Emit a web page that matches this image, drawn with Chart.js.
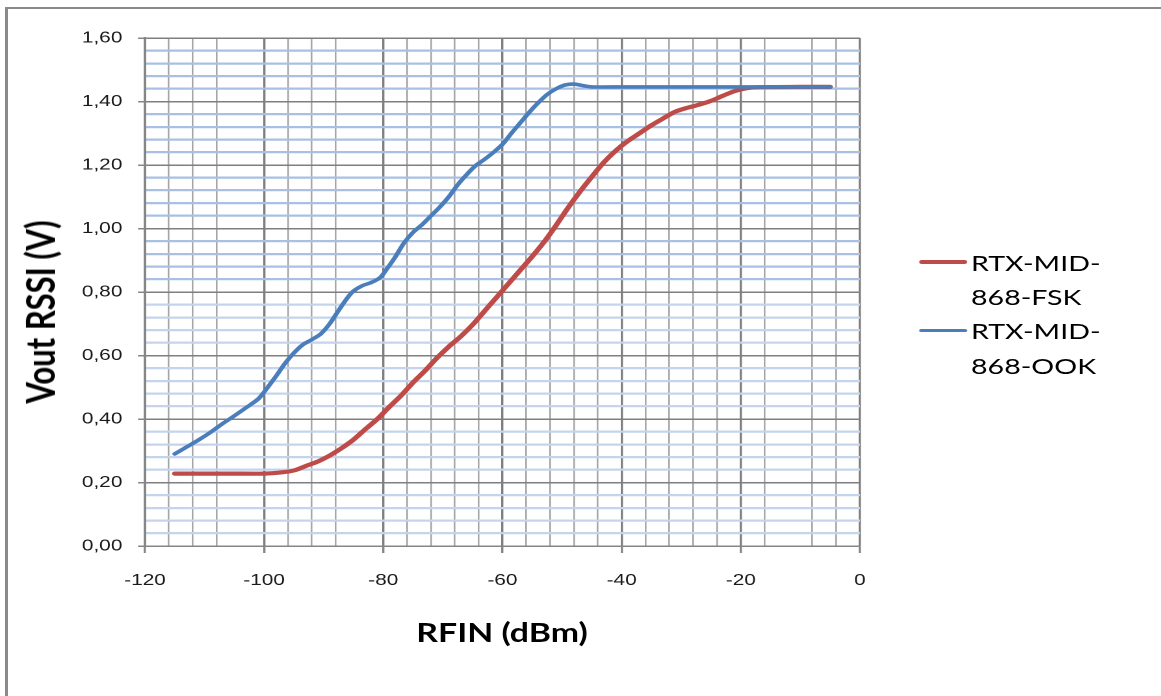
<!DOCTYPE html>
<html>
<head>
<meta charset="utf-8">
<script src="https://cdn.jsdelivr.net/npm/chart.js@4/dist/chart.umd.min.js"></script>
<style>
    html, body { margin: 0; padding: 0; background: #fff; overflow: hidden; }
    body { width: 1161px; height: 696px; position: relative; }
    #frame {
        position: absolute; left: 5px; top: 7px; width: 1300px; height: 800px;
        border-left: 3px solid #8a8a8a; border-top: 2px solid #8a8a8a;
    }
    /* the source picture is stretched sideways, so the whole chart is too */
    #wrap {
        position: absolute; left: 0; top: 0; width: 893px; height: 696px;
        transform: scaleX(1.3); transform-origin: 0 0;
    }
    .title { position: absolute; font-family: Lato, sans-serif; font-weight: bold; color: #000; white-space: nowrap; line-height: 1; }
    #ytitle { left: 30.8px; top: 312px; font-size: 31px; transform: translate(-50%, -50%) rotate(-90deg); }
    #xtitle { left: 386.2px; top: 632px; font-size: 26px; transform: translate(-50%, -50%); }
    .swatch { position: absolute; left: 706.9px; width: 36.9px; border-radius: 2px; }
    .ltext { position: absolute; left: 746.9px; font-family: Lato, sans-serif; font-size: 22px; color: #000; }
</style>
</head>
<body>
<div id="frame"></div>
<div id="wrap">
    <canvas id="rssiChart"></canvas>
    <div class="title" id="ytitle">Vout RSSI (V)</div>
    <div class="title" id="xtitle">RFIN (dBm)</div>
    <div class="swatch" style="top:260px;height:4px;background:#be4b48;"></div>
    <div class="ltext" style="top:246px;line-height:34px;">RTX-MID-<br>868-FSK</div>
    <div class="swatch" style="top:328.5px;height:3px;background:#4a7ebb;"></div>
    <div class="ltext" style="top:312.5px;line-height:35px;">RTX-MID-<br>868-OOK</div>
</div>
<script>
const fskX = [-115, -110, -105, -100, -97, -95, -93, -91, -89, -87, -85, -83, -81, -79, -77, -75, -73, -71, -69, -67,
    -65, -63, -61, -59, -57, -55, -53, -51, -49, -47, -45, -43, -41, -39, -37, -35, -33, -31, -29, -27,
    -25, -23, -21, -19, -17, -10, -5];
const fskY = [0.228, 0.228, 0.228, 0.228, 0.232, 0.238, 0.252, 0.266, 0.285, 0.308, 0.335, 0.368, 0.400, 0.438, 0.474, 0.515, 0.552, 0.592, 0.628, 0.660,
    0.697, 0.740, 0.783, 0.826, 0.869, 0.912, 0.958, 1.010, 1.065, 1.116, 1.163, 1.208, 1.245, 1.275, 1.300, 1.325, 1.347, 1.368, 1.380, 1.390,
    1.402, 1.418, 1.433, 1.442, 1.445, 1.446, 1.446];

const ookX = [-115, -113, -111, -109, -107, -105, -103, -101, -100, -98, -96.5, -95, -93.5, -92, -90.5, -89, -87.5, -86, -85, -83.5,
    -82, -80.5, -79.5, -78, -76.5, -75, -73.5, -72, -70.5, -69, -67.5, -66, -64.5, -63, -61.5, -60, -58.5, -57, -55.5, -54,
    -52.5, -51, -49.5, -48, -46.5, -45, -40, -30, -20, -5];
const ookY = [0.290, 0.312, 0.334, 0.358, 0.385, 0.410, 0.436, 0.463, 0.485, 0.535, 0.575, 0.608, 0.634, 0.650, 0.668, 0.700, 0.742, 0.782, 0.803, 0.820,
    0.830, 0.846, 0.870, 0.910, 0.955, 0.988, 1.012, 1.040, 1.068, 1.100, 1.138, 1.170, 1.198, 1.218, 1.240, 1.265, 1.300, 1.333, 1.366, 1.396,
    1.422, 1.440, 1.452, 1.455, 1.450, 1.446, 1.446, 1.446, 1.446, 1.446];

const xLabels = [-120, -100, -80, -60, -40, -20, 0];
// vertical grid lines that survive in the picture (some minor ones are lost)
const xGridLines = [-120, -116, -112, -108, -100, -96, -92, -88, -80, -76, -72, -68, -64, -60, -56, -52, -48, -44,
    -40, -36, -32, -28, -24, -20, -16, -8, -4, 0];
const yLabels = ["0,00", "0,20", "0,40", "0,60", "0,80", "1,00", "1,20", "1,40", "1,60"];

document.addEventListener("DOMContentLoaded", function () {
    const toPoints = (xs, ys) => xs.map((x, i) => ({ x: x, y: ys[i] }));
    const isYMajor = (v) => Math.round(v * 100) % 20 === 0;
    // minor lines are paler in the lower half of the original
    const yMinorColor = (v) => (v < 0.78 ? "#c4d4ec" : "#a9c0e2");

    const ctx = document.getElementById("rssiChart").getContext("2d");
    new Chart(ctx, {
        type: "line",
        data: {
            datasets: [
                {
                    label: "RTX-MID-868-FSK",
                    data: toPoints(fskX, fskY),
                    borderColor: "#be4b48",
                    borderWidth: 4.2,
                    borderCapStyle: "round",
                    pointRadius: 0,
                    tension: 0.3,
                    order: 1,
                },
                {
                    label: "RTX-MID-868-OOK",
                    data: toPoints(ookX, ookY),
                    borderColor: "#4a7ebb",
                    borderWidth: 3.6,
                    borderCapStyle: "round",
                    pointRadius: 0,
                    tension: 0.3,
                    order: 0,
                },
            ],
        },
        options: {
            responsive: true,
            maintainAspectRatio: false,
            animation: false,
            devicePixelRatio: 2,
            layout: { padding: { left: 0, top: 38, right: 231.5, bottom: 0 } },
            plugins: { legend: { display: false }, tooltip: { enabled: false } },
            scales: {
                x: {
                    type: "linear",
                    min: -120,
                    max: 0,
                    afterBuildTicks: (scale) => { scale.ticks = xGridLines.map((v) => ({ value: v })); },
                    afterFit: (scale) => { scale.height = 150; },
                    border: { color: "#868686", width: 1.4 },
                    grid: {
                        color: (c) => (xLabels.includes(c.tick.value) ? "#7f7f7f" : "#a6a6a6"),
                        lineWidth: (c) => (xLabels.includes(c.tick.value) ? 1.7 : 1.3),
                        tickColor: (c) => (xLabels.includes(c.tick.value) ? "#868686" : "rgba(0,0,0,0)"),
                        tickLength: 7,
                    },
                    ticks: {
                        autoSkip: false,
                        maxRotation: 0,
                        padding: 18,
                        color: "#1a1a1a",
                        font: { family: "Liberation Sans", size: 16 },
                        callback: (v) => (xLabels.includes(v) ? String(v) : ""),
                    },
                },
                y: {
                    min: 0,
                    max: 1.6,
                    afterFit: (scale) => { scale.width = 111.5; },
                    border: { color: "#868686", width: 2 },
                    grid: {
                        color: (c) => (isYMajor(c.tick.value) ? "#7f7f7f" : yMinorColor(c.tick.value)),
                        lineWidth: (c) => (isYMajor(c.tick.value) ? 1.5 : 2.3),
                        tickColor: (c) => (isYMajor(c.tick.value) ? "#868686" : "rgba(0,0,0,0)"),
                        tickLength: 5.4,
                    },
                    ticks: {
                        stepSize: 0.04,
                        autoSkip: false,
                        padding: 12,
                        color: "#1a1a1a",
                        font: { family: "Liberation Sans", size: 16 },
                        callback: (v) => (isYMajor(v) ? yLabels[Math.round(v / 0.2)] : ""),
                    },
                },
            },
        },
    });
});
</script>
</body>
</html>
